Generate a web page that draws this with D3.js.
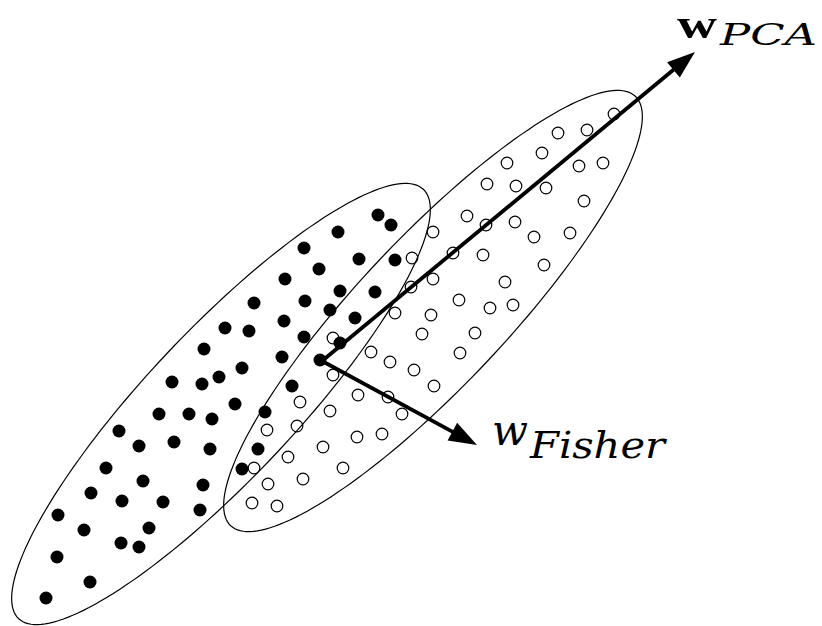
<!DOCTYPE html>
<html>
<head>
<meta charset="utf-8">
<script src="https://cdn.jsdelivr.net/npm/d3@7"></script>
<style>
  html, body { margin: 0; padding: 0; background: #fff; }
  svg { display: block; }
</style>
</head>
<body>
<svg id="chart" width="822" height="626"></svg>
<script>
// Class A samples (filled markers), feature space [x, y]
const classA = [
  [37.8, 41.1], [39.1, 40.1], [33.8, 39.4], [30.4, 37.8], [35.9, 36.7], [39.5, 36.6],
  [31.9, 35.7], [28.5, 34.7], [34.0, 33.5], [37.5, 33.4], [25.4, 32.3], [30.5, 32.5],
  [33.0, 31.6], [35.5, 30.8], [28.4, 30.5], [22.5, 29.8], [24.9, 29.5], [30.4, 28.9],
  [34.0, 28.3], [20.4, 27.7], [28.2, 26.9], [32.0, 26.6], [24.2, 25.8], [17.2, 24.4],
  [21.9, 24.9], [20.2, 24.2], [29.2, 24.0], [23.5, 22.2], [15.9, 21.2], [18.9, 21.2],
  [21.2, 20.7], [26.5, 21.4], [11.9, 19.5], [13.9, 18.0], [17.4, 18.4], [21.0, 17.7],
  [25.8, 17.7], [24.2, 15.7], [10.6, 15.8], [14.3, 14.5], [20.3, 14.1], [9.1, 13.3],
  [12.2, 12.5], [16.3, 12.4], [20.0, 11.6], [5.8, 11.1], [8.4, 9.6], [14.9, 9.8],
  [12.1, 8.3], [13.9, 7.9], [5.7, 6.9], [9.0, 4.4], [4.6, 2.8]
];

// Class B samples (open markers)
const classB = [
  [61.4, 51.2], [58.7, 49.6], [55.8, 49.3], [54.2, 47.3], [50.7, 46.3], [57.9, 46.0],
  [60.3, 46.3], [48.7, 44.2], [51.6, 44.0], [54.6, 43.8], [58.4, 42.5], [46.7, 41.0],
  [48.6, 40.1], [51.5, 40.4], [43.3, 39.4], [53.4, 38.9], [57.0, 39.3], [41.2, 36.8],
  [45.3, 37.3], [48.3, 37.1], [54.4, 36.1], [50.5, 34.4], [43.3, 34.7], [41.1, 33.9],
  [45.9, 32.6], [49.0, 31.8], [51.3, 32.1], [39.5, 31.3], [43.1, 31.1], [42.2, 29.2],
  [47.5, 29.3], [33.3, 28.8], [37.1, 27.4], [39.0, 26.4], [46.0, 27.3], [41.4, 25.6],
  [33.3, 25.1], [43.4, 24.0], [35.8, 23.1], [38.8, 22.9], [30.0, 22.4], [40.2, 21.2],
  [33.0, 21.5], [38.2, 19.2], [35.7, 18.9], [29.7, 20.0], [26.7, 19.6], [32.3, 17.9],
  [28.8, 16.9], [25.4, 15.8], [34.3, 15.8], [30.3, 14.7], [26.8, 14.2], [25.2, 12.3],
  [27.7, 12.0]
];

// Class covariance ellipses: centre, semi-axes, orientation (degrees)
const ellipseCenters = [[22.1, 22.2], [43.3, 31.5]];
const ellipseAxes = [29.5, 7.4];
const ellipseAngle = 46.7;

// Projection directions: common origin, tip of each vector
const origin = [32.2, 26.5];
const directionTips = [[69.5, 57.4], [47.7, 18.1]];

const svg = d3.select("#chart");
const W = 822, H = 626;

const x = d3.scaleLinear().domain([0, 82.2]).range([0, W]);
const y = d3.scaleLinear().domain([0, 62.6]).range([H, 0]);

// Ellipse outline sampled parametrically in data space
function ellipsePoints(c) {
  const t = ellipseAngle * Math.PI / 180;
  const [a, b] = ellipseAxes;
  return d3.range(0, 361, 2).map(d => {
    const s = d * Math.PI / 180;
    const u = a * Math.cos(s), v = b * Math.sin(s);
    return [c[0] + u * Math.cos(t) - v * Math.sin(t),
            c[1] + u * Math.sin(t) + v * Math.cos(t)];
  });
}
const line = d3.line().x(d => x(d[0])).y(d => y(d[1])).curve(d3.curveLinearClosed);

svg.append("g").selectAll("path")
  .data(ellipseCenters)
  .join("path")
  .attr("d", d => line(ellipsePoints(d)))
  .attr("fill", "none")
  .attr("stroke", "#000")
  .attr("stroke-width", 1.2);

svg.append("g").selectAll("circle")
  .data(classB)
  .join("circle")
  .attr("cx", d => x(d[0]))
  .attr("cy", d => y(d[1]))
  .attr("r", 5.8)
  .attr("fill", "none")
  .attr("stroke", "#000")
  .attr("stroke-width", 1.2);

svg.append("g").selectAll("circle")
  .data(classA)
  .join("circle")
  .attr("cx", d => x(d[0]))
  .attr("cy", d => y(d[1]))
  .attr("r", 6.5)
  .attr("fill", "#000");

// Arrows: shaft plus triangular head
const headLen = 28, headHalf = 10;
const arrows = svg.append("g");
directionTips.forEach(tip => {
  const x0 = x(origin[0]), y0 = y(origin[1]);
  const x1 = x(tip[0]), y1 = y(tip[1]);
  const dx = x1 - x0, dy = y1 - y0;
  const L = Math.hypot(dx, dy);
  const ux = dx / L, uy = dy / L;
  const bx = x1 - ux * headLen, by = y1 - uy * headLen;
  arrows.append("line")
    .attr("x1", x0).attr("y1", y0)
    .attr("x2", bx + ux * 2).attr("y2", by + uy * 2)
    .attr("stroke", "#000")
    .attr("stroke-width", 3.8);
  arrows.append("path")
    .attr("d", `M${x1},${y1}L${bx - uy * headHalf},${by + ux * headHalf}L${bx + uy * headHalf},${by - ux * headHalf}Z`)
    .attr("fill", "#000");
});

// Vector labels
const serif = "'DejaVu Serif', serif";
const labels = svg.append("g").attr("fill", "#000");
labels.append("text")
  .attr("x", 677).attr("y", 38)
  .attr("font-family", "'Liberation Serif', serif")
  .attr("font-weight", "bold")
  .attr("font-size", 42)
  .attr("textLength", 40)
  .attr("lengthAdjust", "spacingAndGlyphs")
  .text("w");
labels.append("text")
  .attr("x", 720).attr("y", 45)
  .attr("font-family", serif)
  .attr("font-style", "italic")
  .attr("font-size", 30)
  .attr("textLength", 97)
  .attr("lengthAdjust", "spacingAndGlyphs")
  .text("PCA");
labels.append("text")
  .attr("x", 492).attr("y", 445)
  .attr("font-family", serif)
  .attr("font-style", "italic")
  .attr("font-size", 42)
  .attr("textLength", 36)
  .attr("lengthAdjust", "spacingAndGlyphs")
  .text("w");
labels.append("text")
  .attr("x", 530).attr("y", 458)
  .attr("font-family", serif)
  .attr("font-style", "italic")
  .attr("font-size", 38)
  .attr("textLength", 135)
  .attr("lengthAdjust", "spacingAndGlyphs")
  .text("Fisher");
</script>
</body>
</html>
